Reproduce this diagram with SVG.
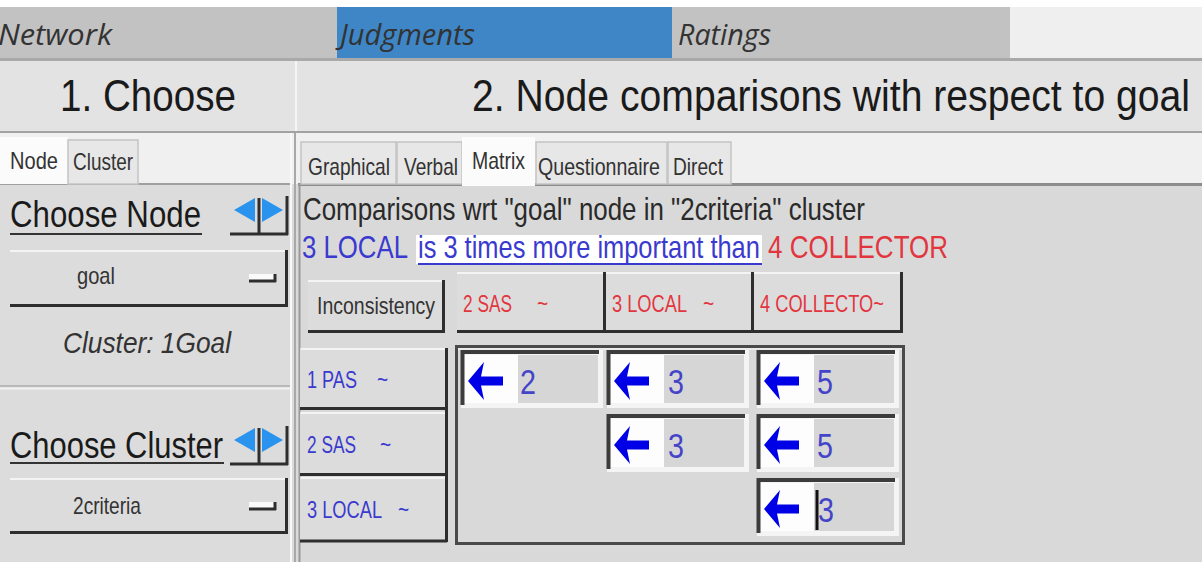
<svg xmlns="http://www.w3.org/2000/svg" width="1202" height="562" viewBox="0 0 1202 562">
  <defs>
    <style>
      .ui { font-family: "Liberation Sans", Arial, sans-serif; }
      .menu { font-family: "Open Sans", "Liberation Sans", sans-serif; font-style: italic; font-size: 29px; fill: #333; }
      .title { font-family: "Liberation Sans", Arial, sans-serif; font-size: 44px; fill: #1a1a1a; }
      .small { font-family: "Liberation Sans", Arial, sans-serif; font-size: 23px; fill: #333; }
      .red { fill: #e2363f; }
      .blue { fill: #3a3acf; }
      .face { fill: #dcdcdc; }
      .dark { stroke: #2e2e2e; stroke-width: 3; fill: none; }
      .light { stroke: #f4f4f4; stroke-width: 2; fill: none; }
      .tab { fill: #e7e7e7; stroke: #c4c4c4; stroke-width: 1.5; }
      .val { font-family: "Liberation Sans", Arial, sans-serif; font-size: 35px; fill: #4444c8; }
      .tri { fill: #2a93ee; }
    </style>
    <!-- left-pointing judgement arrow, tip at origin -->
    <polygon id="larrow" points="0,0 16,-19 13,-4.5 35,-4.5 35,4.5 13,4.5 16,19" fill="#0000e6"/>
    <!-- sunken matrix cell frame, 142 x 58 -->
    <g id="cell">
      <rect x="0" y="0" width="142" height="58" fill="#f4f4f4"/>
      <rect x="3" y="5" width="54" height="48" fill="#fdfdfd"/>
      <rect x="57" y="5" width="80" height="48" fill="#d6d6d6"/>
      <path d="M1.5,55 V2 H138" stroke="#3c3c3c" stroke-width="4" fill="none"/>
    </g>
    <!-- previous / next navigation pair -->
    <g id="navpair">
      <rect x="0" y="0" width="58" height="39" fill="#dcdcdc"/>
      <polygon class="tri" points="4,14 25,2 25,26"/>
      <polygon class="tri" points="53,14 32,2 32,26"/>
      <path d="M29,2 V39 M0,38 H58 M57,0 V39" class="dark"/>
    </g>
    <!-- dropdown glyph -->
    <g id="ddicon">
      <rect x="0" y="0" width="26" height="7" fill="#fafafa"/>
      <path d="M0,7 H27 M26,0 V8" stroke="#2e2e2e" stroke-width="3" fill="none"/>
    </g>
  </defs>

  <!-- window background -->
  <rect x="0" y="0" width="1202" height="562" fill="#dadada"/>
  <rect x="0" y="0" width="1202" height="7" fill="#ffffff"/>

  <!-- menu bar -->
  <g id="menubar">
    <rect x="0" y="7" width="1010" height="52" fill="#c2c2c2"/>
    <rect x="337" y="7" width="335" height="52" fill="#3e86c6"/>
    <rect x="1010" y="7" width="192" height="52" fill="#efefef"/>
    <rect x="0" y="58" width="1202" height="3" fill="#a9a9a9"/>
    <text class="menu" x="-2" y="45" textLength="114" lengthAdjust="spacingAndGlyphs">Network</text>
    <text class="menu" x="340" y="45" textLength="135" lengthAdjust="spacingAndGlyphs">Judgments</text>
    <text class="menu" x="678" y="45" textLength="93" lengthAdjust="spacingAndGlyphs">Ratings</text>
  </g>

  <!-- section headers (glyphs condensed horizontally) -->
  <g id="headers">
    <rect x="0" y="61" width="1202" height="71" fill="#e3e3e3"/>
    <line x1="296" y1="61" x2="296" y2="132" stroke="#f6f6f6" stroke-width="2"/>
    <rect x="0" y="131" width="1202" height="2" fill="#a2a2a2"/>
    <text class="title" transform="translate(60,111) scale(0.88,1)" textLength="200" lengthAdjust="spacingAndGlyphs">1. Choose</text>
    <text class="title" transform="translate(472,111) scale(0.88,1)" textLength="816" lengthAdjust="spacingAndGlyphs">2. Node comparisons with respect to goal</text>
  </g>

  <!-- tab strips -->
  <rect x="0" y="133" width="1202" height="51" fill="#f0f0f0"/>

  <!-- left panel -->
  <g id="left-panel">
    <rect x="0" y="184" width="292" height="378" fill="#dcdcdc"/>
    <line x1="0" y1="184" x2="292" y2="184" stroke="#a0a0a0" stroke-width="2"/>
    <line x1="291" y1="133" x2="291" y2="562" stroke="#f8f8f8" stroke-width="2"/>
    <line x1="295" y1="133" x2="295" y2="562" stroke="#a8a8a8" stroke-width="2"/>
    <g id="tab-node">
      <rect x="0" y="137" width="68" height="47" fill="#fbfbfb"/>
      <text class="small" transform="translate(10,169) scale(0.83,1)" textLength="57.8" lengthAdjust="spacingAndGlyphs">Node</text>
    </g>
    <g id="tab-cluster">
      <rect class="tab" x="68" y="140" width="70" height="44"/>
      <text class="small" transform="translate(73,170) scale(0.83,1)" textLength="72.3" lengthAdjust="spacingAndGlyphs">Cluster</text>
    </g>

    <g id="choose-node">
      <text class="ui" transform="translate(10,227) scale(0.84,1)" font-size="37" fill="#1a1a1a" textLength="227.4" lengthAdjust="spacingAndGlyphs">Choose Node</text>
      <line x1="10" y1="234" x2="202" y2="234" stroke="#333" stroke-width="2"/>
      <use href="#navpair" x="230" y="196"/>
    </g>
    <g id="node-select">
      <rect class="face" x="10" y="250" width="277" height="57"/>
      <path d="M10,251 H286" class="light"/>
      <path d="M10,305.5 H286.5 V250" class="dark"/>
      <text class="small" transform="translate(77,284) scale(0.83,1)" textLength="45.8" lengthAdjust="spacingAndGlyphs">goal</text>
      <use href="#ddicon" x="249" y="274"/>
    </g>
    <text id="cluster-label" class="ui" transform="translate(63,353) scale(0.9,1)" font-size="29" font-style="italic" fill="#333" textLength="186.7" lengthAdjust="spacingAndGlyphs">Cluster: 1Goal</text>
    <line x1="0" y1="386" x2="290" y2="386" stroke="#bababa" stroke-width="2"/>
    <line x1="0" y1="388.5" x2="290" y2="388.5" stroke="#f2f2f2" stroke-width="2"/>

    <g id="choose-cluster">
      <text class="ui" transform="translate(10,458) scale(0.84,1)" font-size="37" fill="#1a1a1a" textLength="253.6" lengthAdjust="spacingAndGlyphs">Choose Cluster</text>
      <line x1="10" y1="463" x2="224" y2="463" stroke="#333" stroke-width="2"/>
      <use href="#navpair" x="230" y="426"/>
    </g>
    <g id="cluster-select">
      <rect class="face" x="10" y="478" width="277" height="56"/>
      <path d="M10,479 H286" class="light"/>
      <path d="M10,532.5 H286.5 V478" class="dark"/>
      <text class="small" transform="translate(73,514) scale(0.83,1)" textLength="81.9" lengthAdjust="spacingAndGlyphs">2criteria</text>
      <use href="#ddicon" x="249" y="502"/>
    </g>
  </g>

  <!-- right panel -->
  <g id="right-panel">
    <rect x="298" y="185" width="904" height="377" fill="#d9d9d9"/>
    <line x1="298" y1="184.5" x2="1202" y2="184.5" stroke="#8c8c8c" stroke-width="3"/>
    <line x1="299.5" y1="184" x2="299.5" y2="562" stroke="#9a9a9a" stroke-width="2"/>

    <g id="tab-graphical">
      <rect class="tab" x="301" y="142" width="95" height="42"/>
      <text class="small" transform="translate(308,175) scale(0.83,1)" textLength="98.8" lengthAdjust="spacingAndGlyphs">Graphical</text>
    </g>
    <g id="tab-verbal">
      <rect class="tab" x="397" y="142" width="65" height="42"/>
      <text class="small" transform="translate(404,175) scale(0.83,1)" textLength="65.1" lengthAdjust="spacingAndGlyphs">Verbal</text>
    </g>
    <g id="tab-matrix">
      <rect x="462" y="137" width="73" height="49" fill="#fbfbfb"/>
      <text class="small" transform="translate(472,169) scale(0.83,1)" font-size="21" textLength="63.9" lengthAdjust="spacingAndGlyphs">Matrix</text>
    </g>
    <g id="tab-questionnaire">
      <rect class="tab" x="536" y="142" width="131" height="42"/>
      <text class="small" transform="translate(538,175) scale(0.83,1)" textLength="147" lengthAdjust="spacingAndGlyphs">Questionnaire</text>
    </g>
    <g id="tab-direct">
      <rect class="tab" x="668" y="142" width="63" height="42"/>
      <text class="small" transform="translate(673,175) scale(0.83,1)" textLength="60.2" lengthAdjust="spacingAndGlyphs">Direct</text>
    </g>

    <g id="caption">
      <text class="ui" transform="translate(303,220) scale(0.84,1)" font-size="31" fill="#2a2a2a" textLength="669" lengthAdjust="spacingAndGlyphs">Comparisons wrt "goal" node in "2criteria" cluster</text>
      <rect x="416" y="235" width="346" height="29" fill="#ffffff"/>
      <text class="ui blue" transform="translate(302,258) scale(0.84,1)" font-size="31" textLength="126.2" lengthAdjust="spacingAndGlyphs">3 LOCAL</text>
      <text class="ui blue" transform="translate(418,258) scale(0.84,1)" font-size="31" textLength="407" lengthAdjust="spacingAndGlyphs">is 3 times more important than</text>
      <line x1="418" y1="264" x2="762" y2="264" stroke="#3a3acf" stroke-width="2"/>
      <text class="ui red" transform="translate(768,258) scale(0.84,1)" font-size="31" textLength="214.3" lengthAdjust="spacingAndGlyphs">4 COLLECTOR</text>
    </g>

    <!-- column headers -->
    <g id="btn-inconsistency">
      <rect class="face" x="308" y="280" width="137" height="53"/>
      <path d="M308,281 H444" class="light"/>
      <path d="M308,331.5 H443.5 V280" class="dark"/>
      <text class="small" transform="translate(317,314) scale(0.83,1)" textLength="142.2" lengthAdjust="spacingAndGlyphs">Inconsistency</text>
    </g>
    <g id="col-2sas">
      <rect class="face" x="457" y="272" width="148" height="61"/>
      <path d="M457,273 H604" class="light"/>
      <path d="M457,331.5 H605 M604.5,272 V333" class="dark"/>
      <text class="small red" transform="translate(463,312) scale(0.83,1)" textLength="59" lengthAdjust="spacingAndGlyphs">2 SAS</text>
      <text class="small red" transform="translate(537,312) scale(0.83,1)">~</text>
    </g>
    <g id="col-3local">
      <rect class="face" x="606" y="272" width="147" height="61"/>
      <path d="M606,273 H752" class="light"/>
      <path d="M606,331.5 H753 M752.5,272 V333" class="dark"/>
      <text class="small red" transform="translate(612,312) scale(0.83,1)" textLength="90.4" lengthAdjust="spacingAndGlyphs">3 LOCAL</text>
      <text class="small red" transform="translate(703,312) scale(0.83,1)">~</text>
    </g>
    <g id="col-4collector">
      <rect class="face" x="754" y="272" width="148" height="61"/>
      <path d="M754,273 H901" class="light"/>
      <path d="M754,331.5 H902 M901.5,272 V333" class="dark"/>
      <text class="small red" transform="translate(760,312) scale(0.83,1)" textLength="149.4" lengthAdjust="spacingAndGlyphs">4 COLLECTO~</text>
    </g>

    <!-- row headers -->
    <g id="row-1pas">
      <rect class="face" x="300" y="348" width="147" height="62"/>
      <path d="M301,349 H446" class="light"/>
      <path d="M300,408.5 H447 M446.5,348 V410" class="dark"/>
      <text class="small blue" transform="translate(307,388) scale(0.83,1)" textLength="60.2" lengthAdjust="spacingAndGlyphs">1 PAS</text>
      <text class="small blue" transform="translate(377,388) scale(0.83,1)">~</text>
    </g>
    <g id="row-2sas">
      <rect class="face" x="300" y="412" width="147" height="63"/>
      <path d="M301,413 H446" class="light"/>
      <path d="M300,474.5 H447 M446.5,410 V476" class="dark"/>
      <text class="small blue" transform="translate(307,453) scale(0.83,1)" textLength="59" lengthAdjust="spacingAndGlyphs">2 SAS</text>
      <text class="small blue" transform="translate(380,453) scale(0.83,1)">~</text>
    </g>
    <g id="row-3local">
      <rect class="face" x="300" y="477" width="147" height="65"/>
      <path d="M301,478 H446" class="light"/>
      <path d="M300,541 H447 M446.5,476 V542" class="dark"/>
      <text class="small blue" transform="translate(307,518) scale(0.83,1)" textLength="90.4" lengthAdjust="spacingAndGlyphs">3 LOCAL</text>
      <text class="small blue" transform="translate(398,518) scale(0.83,1)">~</text>
    </g>

    <!-- judgement matrix -->
    <g id="matrix">
      <rect x="456.5" y="346.5" width="447" height="197" fill="#d9d9d9" stroke="#4a4a4a" stroke-width="3"/>
      <line x1="458" y1="349" x2="902" y2="349" stroke="#efefef" stroke-width="1.5"/>
      <g id="cell-1-2">
        <use href="#cell" x="461" y="350"/>
        <use href="#larrow" x="468" y="381"/>
        <text class="val" transform="translate(520,394) scale(0.82,1)">2</text>
      </g>
      <g id="cell-1-3">
        <use href="#cell" x="607" y="350"/>
        <use href="#larrow" x="614" y="381"/>
        <text class="val" transform="translate(668,394) scale(0.82,1)">3</text>
      </g>
      <g id="cell-1-4">
        <use href="#cell" x="757" y="350"/>
        <use href="#larrow" x="764" y="381"/>
        <text class="val" transform="translate(817,394) scale(0.82,1)">5</text>
      </g>
      <g id="cell-2-3">
        <use href="#cell" x="607" y="414"/>
        <use href="#larrow" x="614" y="445"/>
        <text class="val" transform="translate(668,458) scale(0.82,1)">3</text>
      </g>
      <g id="cell-2-4">
        <use href="#cell" x="757" y="414"/>
        <use href="#larrow" x="764" y="445"/>
        <text class="val" transform="translate(817,458) scale(0.82,1)">5</text>
      </g>
      <g id="cell-3-4">
        <use href="#cell" x="757" y="478"/>
        <use href="#larrow" x="764" y="509"/>
        <text class="val" transform="translate(818,522) scale(0.82,1)">3</text>
        <line x1="817" y1="490" x2="817" y2="530" stroke="#111" stroke-width="3"/>
      </g>
    </g>
  </g>
</svg>
